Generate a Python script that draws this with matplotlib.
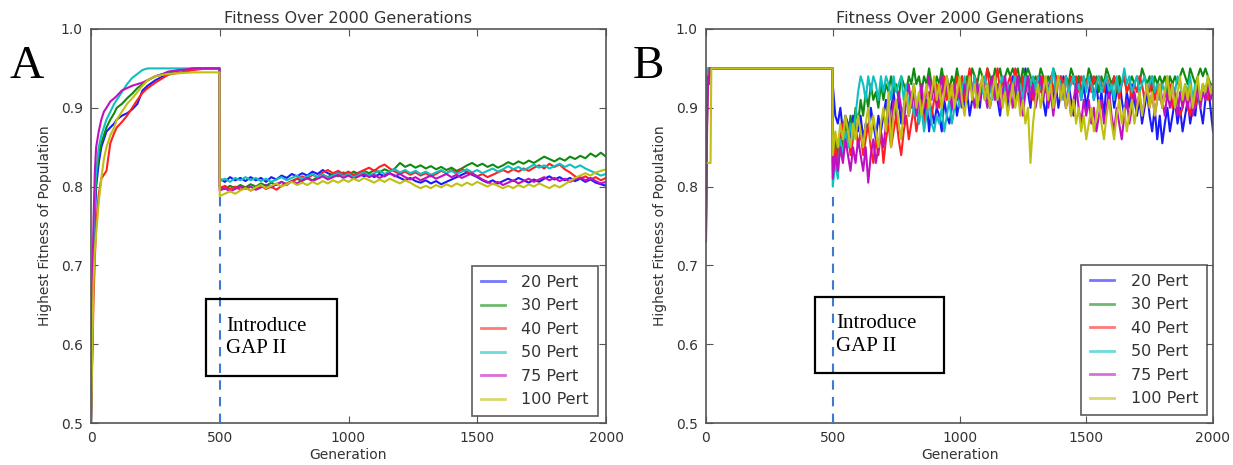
import numpy as np
import matplotlib
matplotlib.use('Agg')
import matplotlib.pyplot as plt
from matplotlib.patches import Rectangle
from matplotlib.ticker import FormatStrFormatter

labels = ['20 Pert', '30 Pert', '40 Pert', '50 Pert', '75 Pert', '100 Pert']
colors = ['#1a1aff', '#108a10', '#ff2020', '#10c0c0', '#c010c0', '#c0c010']

# ---------------- panel A ----------------
gen_a_rise = [0, 5, 10, 15, 20, 30, 40, 50, 60, 75, 90, 100, 120, 140, 160,
              180, 200, 220, 250, 280, 300, 350, 400, 450, 499]
gen_a_post = np.arange(500, 2001, 20)

a20_rise = [0.50, 0.60, 0.70, 0.76, 0.80, 0.83, 0.85, 0.86, 0.87, 0.875, 0.88, 0.885, 0.89,
            0.893, 0.898, 0.905, 0.922, 0.928, 0.935, 0.94, 0.945, 0.948, 0.95, 0.95, 0.95]
a30_rise = [0.50, 0.62, 0.72, 0.78, 0.81, 0.84, 0.855, 0.865, 0.875, 0.885, 0.893, 0.90, 0.905,
            0.912, 0.918, 0.925, 0.93, 0.935, 0.94, 0.943, 0.945, 0.948, 0.95, 0.95, 0.95]
a40_rise = [0.50, 0.58, 0.66, 0.71, 0.75, 0.79, 0.81, 0.815, 0.82, 0.855, 0.868, 0.875, 0.882,
            0.89, 0.90, 0.91, 0.919, 0.925, 0.932, 0.938, 0.942, 0.945, 0.948, 0.95, 0.95]
a50_rise = [0.50, 0.63, 0.73, 0.79, 0.82, 0.85, 0.865, 0.875, 0.885, 0.895, 0.905, 0.91, 0.92,
            0.93, 0.938, 0.943, 0.948, 0.95, 0.95, 0.95, 0.95, 0.95, 0.95, 0.95, 0.95]
a75_rise = [0.50, 0.66, 0.76, 0.82, 0.85, 0.87, 0.885, 0.895, 0.90, 0.908, 0.912, 0.915, 0.922,
            0.925, 0.928, 0.93, 0.932, 0.935, 0.94, 0.943, 0.946, 0.948, 0.95, 0.95, 0.95]
a100_rise = [0.50, 0.60, 0.68, 0.72, 0.74, 0.78, 0.81, 0.835, 0.85, 0.865, 0.875, 0.885, 0.895,
             0.905, 0.912, 0.92, 0.928, 0.935, 0.94, 0.942, 0.943, 0.944, 0.945, 0.945, 0.945]

a20_post = [0.810, 0.806, 0.812, 0.808, 0.811, 0.807, 0.812, 0.808, 0.811, 0.806,
            0.812, 0.809, 0.814, 0.811, 0.816, 0.813, 0.817, 0.814, 0.819, 0.816,
            0.821, 0.817, 0.814, 0.818, 0.815, 0.818, 0.814, 0.817, 0.813, 0.816,
            0.812, 0.816, 0.813, 0.817, 0.814, 0.811, 0.808, 0.811, 0.807, 0.805,
            0.808, 0.804, 0.807, 0.803, 0.806, 0.809, 0.812, 0.815, 0.818, 0.815,
            0.812, 0.808, 0.805, 0.808, 0.804, 0.807, 0.810, 0.807, 0.811, 0.808,
            0.805, 0.809, 0.806, 0.810, 0.813, 0.809, 0.812, 0.808, 0.811, 0.807,
            0.810, 0.806, 0.809, 0.805, 0.803, 0.801]
a30_post = [0.800, 0.797, 0.801, 0.798, 0.802, 0.799, 0.803, 0.800, 0.804, 0.801,
            0.805, 0.802, 0.806, 0.803, 0.807, 0.810, 0.807, 0.811, 0.808, 0.812,
            0.815, 0.812, 0.816, 0.813, 0.818, 0.815, 0.819, 0.816, 0.820, 0.817,
            0.821, 0.818, 0.822, 0.819, 0.823, 0.830, 0.825, 0.828, 0.824, 0.827,
            0.823, 0.826, 0.822, 0.825, 0.821, 0.824, 0.820, 0.823, 0.827, 0.830,
            0.826, 0.829, 0.825, 0.828, 0.824, 0.827, 0.831, 0.828, 0.832, 0.829,
            0.833, 0.830, 0.834, 0.838, 0.835, 0.832, 0.836, 0.833, 0.838, 0.835,
            0.839, 0.836, 0.842, 0.838, 0.843, 0.838]
a40_post = [0.798, 0.801, 0.797, 0.800, 0.796, 0.799, 0.795, 0.798, 0.801, 0.797,
            0.800, 0.796, 0.801, 0.804, 0.807, 0.810, 0.813, 0.810, 0.815, 0.812,
            0.818, 0.821, 0.817, 0.820, 0.816, 0.819, 0.815, 0.818, 0.821, 0.824,
            0.820, 0.825, 0.828, 0.823, 0.819, 0.816, 0.819, 0.815, 0.818, 0.814,
            0.817, 0.813, 0.816, 0.820, 0.817, 0.821, 0.818, 0.822, 0.819, 0.816,
            0.813, 0.816, 0.812, 0.815, 0.818, 0.821, 0.818, 0.822, 0.819, 0.823,
            0.820, 0.824, 0.827, 0.823, 0.829, 0.825, 0.828, 0.822, 0.818, 0.813,
            0.810, 0.813, 0.809, 0.812, 0.808, 0.811]
a50_post = [0.807, 0.810, 0.806, 0.811, 0.808, 0.812, 0.808, 0.811, 0.807, 0.810,
            0.806, 0.809, 0.812, 0.808, 0.811, 0.814, 0.810, 0.813, 0.816, 0.812,
            0.815, 0.811, 0.814, 0.817, 0.813, 0.816, 0.812, 0.815, 0.818, 0.814,
            0.817, 0.820, 0.816, 0.819, 0.822, 0.818, 0.821, 0.817, 0.820, 0.816,
            0.819, 0.815, 0.818, 0.821, 0.817, 0.820, 0.816, 0.819, 0.822, 0.818,
            0.821, 0.817, 0.820, 0.823, 0.819, 0.822, 0.826, 0.822, 0.825, 0.821,
            0.824, 0.828, 0.824, 0.827, 0.823, 0.826, 0.829, 0.825, 0.828, 0.824,
            0.827, 0.823, 0.820, 0.817, 0.814, 0.816]
a75_post = [0.795, 0.798, 0.794, 0.797, 0.800, 0.797, 0.800, 0.796, 0.799, 0.802,
            0.799, 0.803, 0.806, 0.802, 0.807, 0.804, 0.808, 0.811, 0.807, 0.810,
            0.813, 0.809, 0.812, 0.815, 0.811, 0.814, 0.810, 0.813, 0.816, 0.812,
            0.815, 0.811, 0.814, 0.817, 0.813, 0.816, 0.812, 0.809, 0.812, 0.808,
            0.811, 0.814, 0.810, 0.813, 0.816, 0.812, 0.815, 0.811, 0.814, 0.817,
            0.813, 0.809, 0.806, 0.803, 0.806, 0.802, 0.805, 0.808, 0.804, 0.807,
            0.810, 0.806, 0.809, 0.812, 0.808, 0.811, 0.807, 0.810, 0.806, 0.809,
            0.812, 0.808, 0.811, 0.807, 0.804, 0.806]
a100_post = [0.788, 0.791, 0.794, 0.791, 0.795, 0.798, 0.795, 0.799, 0.802, 0.798,
             0.801, 0.804, 0.800, 0.803, 0.806, 0.802, 0.805, 0.802, 0.806, 0.803,
             0.807, 0.804, 0.808, 0.805, 0.809, 0.806, 0.810, 0.807, 0.811, 0.808,
             0.805, 0.809, 0.806, 0.810, 0.807, 0.804, 0.808, 0.805, 0.801, 0.798,
             0.801, 0.798, 0.802, 0.799, 0.803, 0.800, 0.804, 0.801, 0.805, 0.802,
             0.806, 0.803, 0.800, 0.804, 0.801, 0.798, 0.801, 0.798, 0.802, 0.799,
             0.803, 0.800, 0.804, 0.801, 0.798, 0.802, 0.799, 0.803, 0.807, 0.811,
             0.814, 0.817, 0.814, 0.818, 0.820, 0.822]

# ---------------- panel B ----------------
gen_b_rise = [0, 3, 6, 9, 12, 15, 18, 21, 499]
gen_b_post = np.arange(500, 2001, 10)

b20_rise = [0.74, 0.86, 0.93, 0.95, 0.94, 0.95, 0.95, 0.95, 0.95]
b30_rise = [0.76, 0.88, 0.94, 0.95, 0.95, 0.95, 0.95, 0.95, 0.95]
b40_rise = [0.75, 0.86, 0.92, 0.94, 0.95, 0.95, 0.95, 0.95, 0.95]
b50_rise = [0.78, 0.90, 0.95, 0.95, 0.95, 0.95, 0.95, 0.95, 0.95]
b75_rise = [0.73, 0.84, 0.91, 0.94, 0.93, 0.95, 0.95, 0.95, 0.95]
b100_rise = [0.83, 0.83, 0.83, 0.83, 0.83, 0.83, 0.83, 0.95, 0.95]

b20_post = [0.93, 0.89, 0.88, 0.90, 0.87, 0.89, 0.88, 0.86, 0.89, 0.88,
            0.87, 0.89, 0.86, 0.88, 0.87, 0.90, 0.88, 0.86, 0.89, 0.87,
            0.89, 0.91, 0.88, 0.90, 0.92, 0.89, 0.91, 0.88, 0.90, 0.92,
            0.89, 0.91, 0.93, 0.90, 0.88, 0.92, 0.89, 0.91, 0.87, 0.90,
            0.88, 0.90, 0.89, 0.87, 0.91, 0.89, 0.88, 0.90, 0.92, 0.89,
            0.91, 0.93, 0.90, 0.92, 0.89, 0.91, 0.94, 0.92, 0.90, 0.93,
            0.91, 0.93, 0.90, 0.92, 0.94, 0.91, 0.89, 0.92, 0.93, 0.90,
            0.92, 0.94, 0.91, 0.93, 0.90, 0.92, 0.95, 0.92, 0.90, 0.93,
            0.91, 0.93, 0.94, 0.91, 0.89, 0.92, 0.94, 0.91, 0.93, 0.90,
            0.92, 0.94, 0.90, 0.93, 0.91, 0.89, 0.92, 0.94, 0.91, 0.93,
            0.90, 0.92, 0.94, 0.91, 0.93, 0.90, 0.92, 0.89, 0.93, 0.91,
            0.93, 0.90, 0.92, 0.94, 0.91, 0.89, 0.92, 0.90, 0.93, 0.91,
            0.89, 0.91, 0.88, 0.90, 0.92, 0.89, 0.87, 0.90, 0.86, 0.89,
            0.855, 0.88, 0.90, 0.87, 0.89, 0.91, 0.88, 0.90, 0.87, 0.89,
            0.91, 0.88, 0.90, 0.89, 0.92, 0.90, 0.88, 0.91, 0.93, 0.90,
            0.87]
b30_post = [0.83, 0.86, 0.84, 0.87, 0.85, 0.88, 0.86, 0.89, 0.87, 0.90,
            0.88, 0.91, 0.89, 0.92, 0.90, 0.93, 0.91, 0.92, 0.90, 0.93,
            0.91, 0.93, 0.92, 0.94, 0.92, 0.93, 0.91, 0.94, 0.93, 0.92,
            0.94, 0.93, 0.95, 0.93, 0.94, 0.92, 0.94, 0.93, 0.95, 0.93,
            0.92, 0.94, 0.93, 0.95, 0.93, 0.94, 0.92, 0.94, 0.93, 0.95,
            0.93, 0.94, 0.92, 0.94, 0.93, 0.95, 0.94, 0.93, 0.95, 0.94,
            0.93, 0.95, 0.94, 0.93, 0.95, 0.94, 0.95, 0.93, 0.94, 0.95,
            0.94, 0.95, 0.94, 0.95, 0.93, 0.95, 0.94, 0.95, 0.94, 0.93,
            0.94, 0.93, 0.95, 0.94, 0.92, 0.94, 0.93, 0.95, 0.94, 0.93,
            0.94, 0.92, 0.94, 0.93, 0.95, 0.94, 0.93, 0.94, 0.92, 0.94,
            0.93, 0.95, 0.94, 0.93, 0.94, 0.92, 0.94, 0.93, 0.95, 0.94,
            0.93, 0.94, 0.92, 0.94, 0.93, 0.94, 0.92, 0.93, 0.94, 0.93,
            0.94, 0.93, 0.95, 0.94, 0.93, 0.94, 0.92, 0.94, 0.93, 0.94,
            0.93, 0.94, 0.92, 0.94, 0.93, 0.94, 0.93, 0.94, 0.95, 0.94,
            0.93, 0.95, 0.94, 0.93, 0.94, 0.95, 0.94, 0.95, 0.94, 0.93,
            0.93]
b40_post = [0.82, 0.85, 0.83, 0.86, 0.88, 0.85, 0.87, 0.84, 0.86, 0.88,
            0.85, 0.87, 0.84, 0.86, 0.88, 0.85, 0.83, 0.86, 0.84, 0.87,
            0.83, 0.86, 0.88, 0.85, 0.87, 0.89, 0.86, 0.84, 0.87, 0.89,
            0.86, 0.88, 0.90, 0.87, 0.89, 0.91, 0.88, 0.90, 0.92, 0.89,
            0.91, 0.93, 0.90, 0.92, 0.94, 0.91, 0.93, 0.90, 0.92, 0.94,
            0.92, 0.94, 0.91, 0.93, 0.95, 0.92, 0.94, 0.93, 0.91, 0.94,
            0.93, 0.95, 0.92, 0.94, 0.93, 0.95, 0.92, 0.94, 0.91, 0.93,
            0.94, 0.92, 0.95, 0.93, 0.91, 0.94, 0.92, 0.94, 0.93, 0.91,
            0.93, 0.94, 0.92, 0.94, 0.93, 0.91, 0.94, 0.92, 0.94, 0.93,
            0.94, 0.93, 0.94, 0.92, 0.94, 0.93, 0.94, 0.92, 0.94, 0.93,
            0.93, 0.94, 0.92, 0.94, 0.93, 0.94, 0.93, 0.92, 0.94, 0.93,
            0.92, 0.94, 0.93, 0.91, 0.93, 0.94, 0.92, 0.93, 0.91, 0.93,
            0.92, 0.94, 0.93, 0.91, 0.93, 0.92, 0.94, 0.91, 0.93, 0.92,
            0.90, 0.92, 0.91, 0.93, 0.90, 0.92, 0.91, 0.89, 0.90, 0.92,
            0.90, 0.89, 0.91, 0.90, 0.92, 0.91, 0.93, 0.92, 0.91, 0.93,
            0.92]
b50_post = [0.80, 0.83, 0.81, 0.86, 0.84, 0.87, 0.85, 0.88, 0.86, 0.89,
            0.92, 0.94, 0.93, 0.91, 0.94, 0.92, 0.94, 0.93, 0.91, 0.94,
            0.92, 0.94, 0.93, 0.91, 0.94, 0.92, 0.93, 0.94, 0.91, 0.93,
            0.90, 0.92, 0.89, 0.91, 0.88, 0.90, 0.87, 0.89, 0.91, 0.88,
            0.87, 0.89, 0.88, 0.90, 0.87, 0.89, 0.91, 0.88, 0.90, 0.92,
            0.90, 0.92, 0.94, 0.91, 0.93, 0.92, 0.94, 0.91, 0.93, 0.92,
            0.94, 0.92, 0.93, 0.91, 0.94, 0.92, 0.93, 0.94, 0.92, 0.93,
            0.91, 0.93, 0.94, 0.92, 0.93, 0.91, 0.94, 0.92, 0.93, 0.94,
            0.92, 0.94, 0.93, 0.91, 0.94, 0.92, 0.93, 0.95, 0.92, 0.94,
            0.93, 0.91, 0.94, 0.92, 0.93, 0.94, 0.92, 0.93, 0.91, 0.94,
            0.92, 0.94, 0.93, 0.91, 0.93, 0.94, 0.92, 0.93, 0.94, 0.92,
            0.93, 0.91, 0.94, 0.92, 0.93, 0.95, 0.93, 0.94, 0.92, 0.93,
            0.94, 0.92, 0.93, 0.94, 0.92, 0.93, 0.94, 0.92, 0.93, 0.91,
            0.93, 0.92, 0.94, 0.91, 0.93, 0.92, 0.94, 0.93, 0.91, 0.93,
            0.92, 0.94, 0.91, 0.93, 0.92, 0.90, 0.93, 0.92, 0.94, 0.92,
            0.93]
b75_post = [0.81, 0.84, 0.82, 0.85, 0.83, 0.86, 0.84, 0.82, 0.85, 0.83,
            0.86, 0.84, 0.82, 0.85, 0.805, 0.84, 0.86, 0.83, 0.85, 0.87,
            0.85, 0.88, 0.90, 0.87, 0.91, 0.89, 0.92, 0.90, 0.88, 0.91,
            0.93, 0.90, 0.92, 0.89, 0.91, 0.93, 0.90, 0.92, 0.94, 0.91,
            0.93, 0.90, 0.92, 0.94, 0.91, 0.93, 0.92, 0.90, 0.93, 0.91,
            0.92, 0.90, 0.93, 0.91, 0.94, 0.92, 0.90, 0.93, 0.91, 0.94,
            0.92, 0.90, 0.93, 0.94, 0.91, 0.93, 0.90, 0.92, 0.94, 0.91,
            0.93, 0.90, 0.92, 0.94, 0.91, 0.89, 0.92, 0.94, 0.91, 0.93,
            0.90, 0.92, 0.94, 0.91, 0.93, 0.90, 0.92, 0.89, 0.92, 0.94,
            0.91, 0.93, 0.90, 0.92, 0.89, 0.91, 0.93, 0.90, 0.88, 0.91,
            0.89, 0.91, 0.88, 0.90, 0.87, 0.89, 0.91, 0.88, 0.90, 0.92,
            0.89, 0.87, 0.90, 0.88, 0.86, 0.89, 0.91, 0.88, 0.90, 0.92,
            0.90, 0.92, 0.89, 0.91, 0.93, 0.90, 0.92, 0.89, 0.91, 0.93,
            0.91, 0.89, 0.92, 0.90, 0.93, 0.91, 0.89, 0.92, 0.90, 0.92,
            0.90, 0.92, 0.89, 0.91, 0.93, 0.90, 0.92, 0.91, 0.93, 0.91,
            0.92]
b100_post = [0.84, 0.87, 0.85, 0.88, 0.86, 0.89, 0.87, 0.85, 0.88, 0.86,
             0.89, 0.87, 0.85, 0.88, 0.90, 0.86, 0.89, 0.87, 0.85, 0.88,
             0.90, 0.87, 0.92, 0.85, 0.89, 0.91, 0.88, 0.86, 0.90, 0.92,
             0.89, 0.91, 0.93, 0.90, 0.92, 0.89, 0.91, 0.93, 0.90, 0.92,
             0.94, 0.91, 0.93, 0.90, 0.92, 0.94, 0.91, 0.93, 0.90, 0.92,
             0.94, 0.91, 0.89, 0.92, 0.94, 0.91, 0.93, 0.90, 0.92, 0.94,
             0.91, 0.93, 0.90, 0.92, 0.94, 0.91, 0.93, 0.90, 0.92, 0.89,
             0.91, 0.93, 0.90, 0.92, 0.89, 0.91, 0.88, 0.90, 0.83, 0.88,
             0.91, 0.93, 0.90, 0.92, 0.94, 0.91, 0.93, 0.90, 0.92, 0.94,
             0.91, 0.93, 0.90, 0.92, 0.89, 0.91, 0.88, 0.90, 0.87, 0.89,
             0.86, 0.88, 0.90, 0.87, 0.89, 0.91, 0.88, 0.86, 0.89, 0.91,
             0.88, 0.86, 0.89, 0.91, 0.88, 0.90, 0.87, 0.89, 0.91, 0.88,
             0.90, 0.92, 0.89, 0.91, 0.93, 0.90, 0.92, 0.89, 0.91, 0.93,
             0.90, 0.92, 0.94, 0.91, 0.93, 0.90, 0.92, 0.94, 0.91, 0.93,
             0.91, 0.93, 0.90, 0.92, 0.94, 0.91, 0.93, 0.92, 0.94, 0.92,
             0.93]

panel_a = [(a20_rise, a20_post), (a30_rise, a30_post), (a40_rise, a40_post),
           (a50_rise, a50_post), (a75_rise, a75_post), (a100_rise, a100_post)]
panel_b = [(b20_rise, b20_post), (b30_rise, b30_post), (b40_rise, b40_post),
           (b50_rise, b50_post), (b75_rise, b75_post), (b100_rise, b100_post)]

gap_gen = 500
text_col = '#333333'

fig = plt.figure(figsize=(12.33, 4.65), dpi=100)
ax_a = fig.add_axes([91 / 1233, 42 / 465, 515 / 1233, 394 / 465])
ax_b = fig.add_axes([706 / 1233, 42 / 465, 507 / 1233, 394 / 465])


def draw(ax, series, gen_rise, gen_post, dash_top, box, text_x, leg_anchor):
    x = np.concatenate([gen_rise, gen_post])
    for (rise, post), lab, col in zip(series, labels, colors):
        ax.plot(x, np.concatenate([rise, post]), color=col, lw=1.5, label=lab)

    ax.plot([gap_gen, gap_gen], [0.5, dash_top], color='#3c7bd0', lw=1.5,
            linestyle=(0, (4.5, 3.5)), zorder=5)

    ax.add_patch(Rectangle((box[0], box[1]), box[2], box[3], transform=ax.transAxes,
                           fill=False, ec='black', lw=1.6, zorder=6, clip_on=False))
    ax.text(text_x, box[1] + box[3] / 2, 'Introduce\nGAP II', transform=ax.transAxes,
            family='Liberation Serif', fontsize=15, va='center', ha='left',
            linespacing=1.25, zorder=7)

    ax.set_xlim(0, 2000)
    ax.set_ylim(0.5, 1.0)
    ax.set_xticks([0, 500, 1000, 1500, 2000])
    ax.set_yticks([0.5, 0.6, 0.7, 0.8, 0.9, 1.0])
    ax.yaxis.set_major_formatter(FormatStrFormatter('%.1f'))
    ax.tick_params(direction='in', top=True, right=True, length=5, width=0.8,
                   labelsize=10, colors='#555555', labelcolor=text_col, pad=6)
    for sp in ax.spines.values():
        sp.set_color('#555555')
        sp.set_linewidth(1.2)

    ax.set_title('Fitness Over 2000 Generations', fontsize=11.5, color=text_col, pad=4)
    ax.set_xlabel('Generation', fontsize=10, color=text_col, labelpad=2)
    ax.set_ylabel('Highest Fitness of Population', fontsize=10, color=text_col, labelpad=6)

    leg = ax.legend(loc='lower right', bbox_to_anchor=leg_anchor, fontsize=11.5,
                    frameon=True, fancybox=False, handlelength=1.5, handletextpad=1.05,
                    labelspacing=0.53, borderpad=0.55, borderaxespad=0.0)
    leg.get_frame().set_edgecolor('#333333')
    leg.get_frame().set_linewidth(1.2)
    for t in leg.get_texts():
        t.set_color(text_col)
    for h in leg.get_lines():
        h.set_alpha(0.6)
        h.set_linewidth(2)


draw(ax_a, panel_a, gen_a_rise, gen_a_post, 0.787,
     (0.223, 0.119, 0.255, 0.196), 0.262, (0.984, 0.018))
draw(ax_b, panel_b, gen_b_rise, gen_b_post, 0.789,
     (0.215, 0.127, 0.254, 0.193), 0.256, (0.988, 0.02))

fig.text(9 / 1233, (465 - 78) / 465, 'A', family='Liberation Serif', fontsize=34,
         ha='left', va='baseline')
fig.text(633 / 1233, (465 - 78) / 465, 'B', family='Liberation Serif', fontsize=34,
         ha='left', va='baseline')

fig.savefig('out.png', dpi=100, facecolor='white')
